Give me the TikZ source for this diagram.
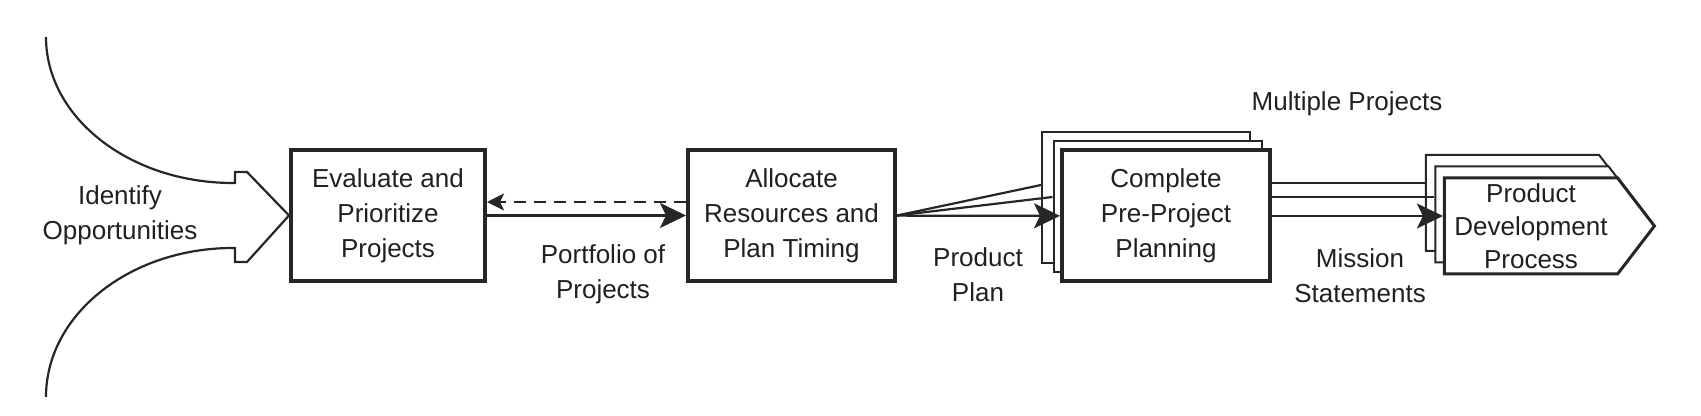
\documentclass[tikz,border=0pt]{standalone}
\usepackage{fontspec}
\setmainfont{Liberation Sans}
\definecolor{LineGray}{RGB}{38, 38, 38}
\definecolor{TextGray}{RGB}{35, 31, 32}
\usetikzlibrary{arrows.meta, shapes.symbols}

\begin{document}
\begin{tikzpicture}[x=50pt, y=50pt,
  box/.style={draw=LineGray, fill=white, line width=2pt, font=\fontsize{13pt}{17.5pt}\selectfont, text=TextGray, align=center, minimum width=104pt, minimum height=65.5pt, inner sep=0pt},
  back/.style={box, line width=1pt},
  tag/.style={box, signal, signal to=east, signal pointer angle=105, line width=1.5pt, minimum width=105pt, minimum height=48pt, font=\fontsize{13pt}{16.5pt}\selectfont},
  backtag/.style={tag, line width=1pt},
  lab/.style={font=\fontsize{13pt}{17.5pt}\selectfont, text=TextGray, align=center},
  line/.style={LineGray, line width=1.1pt},
  arr/.style={line, -{Stealth[length=13pt, width=12.5pt, inset=3pt]}},
  darr/.style={line, dash pattern=on 6pt off 4pt, -{Stealth[length=8.5pt, width=8.5pt, inset=2pt]}}]
\useasboundingbox (0, 0) rectangle (17.01, -4.16);
\node[box, minimum width=97pt] (eval) at (3.88, -2.155) {Evaluate and\\ Prioritize\\ Projects};
\node[box, minimum width=103.5pt] (alloc) at (7.915, -2.155) {Allocate\\ Resources and\\ Plan Timing};
\node[back] (plan3) at (11.46, -1.975) {};
\node[back] (plan2) at (11.575, -2.065) {};
\node[box] (plan) at (11.66, -2.16) {Complete\\ Pre-Project\\ Planning};
\node[backtag] (pdp3) at (15.125, -2.03) {};
\node[backtag] (pdp2) at (15.22, -2.145) {};
\node[tag] (pdp) at (15.31, -2.26) {Product\\ Development\\ Process};
\node[lab] (opp) at (1.2, -2.155) {Identify\\ Opportunities};
\node[lab] (portf) at (6.03, -2.745) {Portfolio of\\ Projects};
\node[lab] (pplan) at (9.78, -2.745) {Product\\ Plan};
\node[lab] (mission) at (13.6, -2.755) {Mission\\ Statements};
\node[lab] (multi) at (13.47, -1.04) {Multiple Projects};
% opportunities funnel
\draw[line] (0.46, -0.37) arc[start angle=180, end angle=270, x radius=1.87, y radius=1.46] -- (2.35, -1.83) -- (2.35, -1.72) -- (2.47, -1.72) -- (eval.west)
  -- (2.47, -2.62) -- (2.35, -2.62) -- (2.35, -2.48) -- (2.33, -2.48) arc[start angle=90, end angle=180, x radius=1.87, y radius=1.49];
\draw[arr] (eval) -- (alloc); \draw[darr] ([yshift=6.75pt]alloc.west) -- ([yshift=6.75pt]eval.east);
\draw[line] (alloc.east) -- ([yshift=6.25pt]plan3.west); \draw[line] (alloc.east) -- ([yshift=4.75pt]plan2.west); \draw[arr] (alloc) -- (plan);
\draw[line] ([yshift=16.5pt]plan.east) -- ([yshift=16.5pt]plan.east -| pdp3.west); \draw[line] ([yshift=9.5pt]plan.east) -- ([yshift=9.5pt]plan.east -| pdp2.west);
\draw[arr] (plan.east) -- (plan.east -| pdp.west);
\end{tikzpicture}
\end{document}
